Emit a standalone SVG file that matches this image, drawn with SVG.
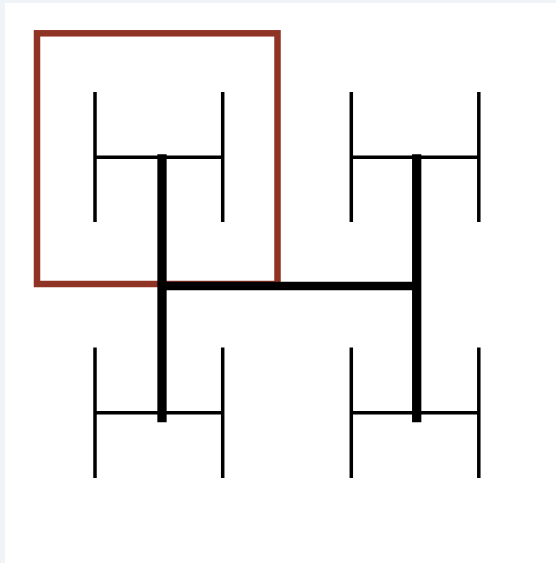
<svg xmlns="http://www.w3.org/2000/svg" width="556" height="563" viewBox="0 0 556 563">
<style>
.thin{stroke:#000;stroke-width:3.5;stroke-linecap:butt;fill:none}
.thick{stroke:#000;fill:none;stroke-linecap:butt}
.box{stroke:#8f3325;stroke-width:6.5;fill:none}
</style>
<rect x="0" y="0" width="556" height="563" fill="#f0f4f8"/>
<rect x="5" y="3" width="551" height="560" fill="#ffffff"/>
<g id="highlight">
<rect class="box" x="37" y="33.3" width="240.5" height="250.7"/>
</g>
<g id="h-top-left">
<line class="thin" x1="95" y1="92" x2="95" y2="222"/>
<line class="thin" x1="222.7" y1="92" x2="222.7" y2="222"/>
<line class="thin" x1="95" y1="157.3" x2="222.7" y2="157.3"/>
</g>
<g id="h-top-right">
<line class="thin" x1="351.3" y1="92" x2="351.3" y2="222"/>
<line class="thin" x1="478.8" y1="92" x2="478.8" y2="222"/>
<line class="thin" x1="351.3" y1="157.3" x2="478.8" y2="157.3"/>
</g>
<g id="h-bottom-left">
<line class="thin" x1="95" y1="347.5" x2="95" y2="478"/>
<line class="thin" x1="222.7" y1="347.5" x2="222.7" y2="478"/>
<line class="thin" x1="95" y1="412.8" x2="222.7" y2="412.8"/>
</g>
<g id="h-bottom-right">
<line class="thin" x1="351.3" y1="347.5" x2="351.3" y2="478"/>
<line class="thin" x1="478.8" y1="347.5" x2="478.8" y2="478"/>
<line class="thin" x1="351.3" y1="412.8" x2="478.8" y2="412.8"/>
</g>
<g id="connectors">
<line class="thick" stroke-width="8.3" x1="162" y1="286" x2="416.7" y2="286"/>
<line class="thick" stroke-width="9.3" x1="162" y1="154.3" x2="162" y2="422.3"/>
<line class="thick" stroke-width="9.3" x1="416.7" y1="154.3" x2="416.7" y2="422.3"/>
</g>
</svg>
